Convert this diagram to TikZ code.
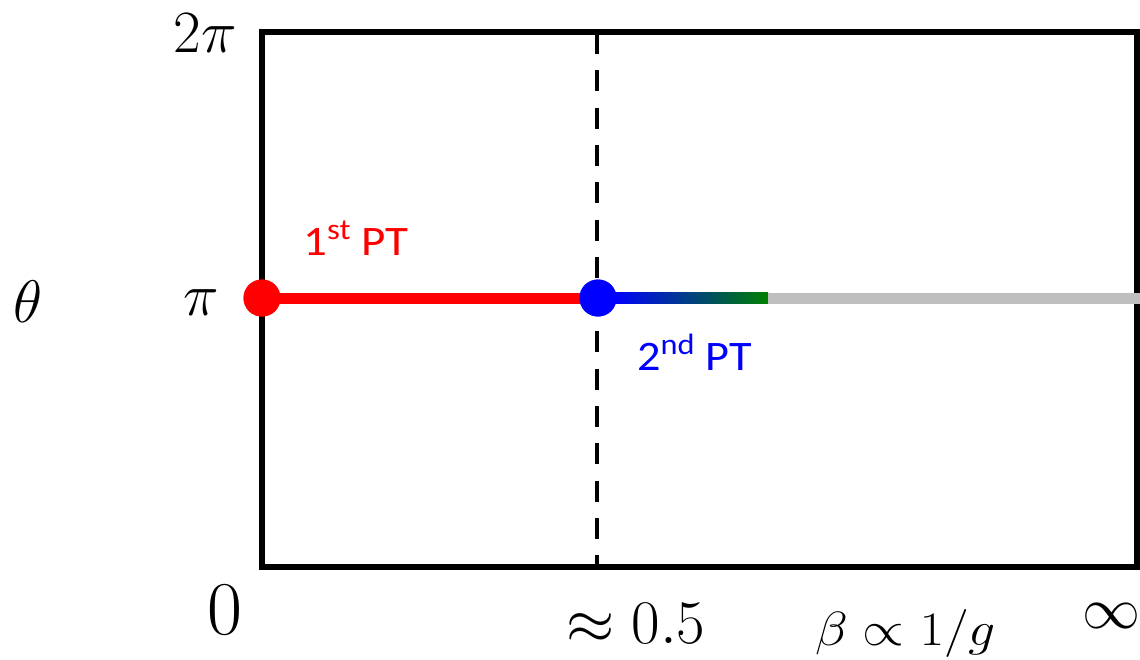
\RequirePackage{fix-cm}
\documentclass[tikz,border=0pt]{standalone}
\usepackage{fontspec}
\newfontfamily\labelfont{Carlito}
\begin{document}
\begin{tikzpicture}[x=1pt,y=-1pt,
  frame/.style={line width=6pt,line cap=rect},
  divider/.style={line width=4.5pt,dash pattern=on 21pt off 16.3pt},
  phaseline/.style={line width=11pt},
  dot/.style={circle,inner sep=0pt,minimum size=37pt},
  mlab/.style={inner sep=0pt,font=\fontsize{60}{72}\selectfont},
  ptlab/.style={inner sep=0pt,font=\labelfont\fontsize{42}{50}\selectfont}]
\useasboundingbox (0,0) rectangle (1140,659);
% frame
\coordinate (tl) at (262,32);
\coordinate (br) at (1137,567);
\draw[frame] (tl) rectangle (br);
% dashed divider
\coordinate (dtop) at (597,33);
\coordinate (dbot) at (597,567);
\draw[divider] (dtop) -- (dbot);
% phase lines
\coordinate (gstart) at (613,298);
\coordinate (gend) at (768,298);
\coordinate (rend) at (1140,298);
\node[dot,fill=red] (p1) at (262,298) {};
\node[dot,fill=blue] (p2) at (598,298) {};
\draw[phaseline,red] (p1.center) -- (p2.center);
\shade[left color=blue,right color={rgb,255:red,0;green,128;blue,0}] (613,292.5) rectangle (768,303.5);
\draw[phaseline,color={rgb,255:red,191;green,191;blue,191}] (gend) -- (rend);
\node[dot,fill=blue] at (598,298) {};
\node[dot,fill=red] at (262,298) {};
% labels
\node[ptlab,text=red,anchor=base west] (l1) at (303,255) {\scalebox{1.12}[1]{1\textsuperscript{st} PT}};
\node[ptlab,text=blue,anchor=base west] (l2) at (637,370) {\scalebox{1.1}[1]{2\textsuperscript{nd} PT}};
\node[mlab,anchor=base east] (ytop) at (237,52) {$2\pi$};
\node[mlab,anchor=base east] (ymid) at (219,315) {$\pi$};
\node[mlab,anchor=base west] (yax) at (13,322) {$\theta$};
\node[inner sep=0pt,font=\fontsize{76}{90}\selectfont,anchor=base] (x0) at (225,634) {$0$};
\node[inner sep=0pt,font=\fontsize{62}{74}\selectfont,anchor=base west] (xc) at (566,643) {$\approx 0.5$};
\node[inner sep=0pt,font=\fontsize{48}{58}\selectfont,anchor=base west] (xax) at (815,645) {\scalebox{1.12}[1]{$\beta\propto 1/g$}};
\node[inner sep=0pt,font=\fontsize{58}{70}\selectfont] (xinf) at (1111,616) {$\infty$};
\end{tikzpicture}
\end{document}
